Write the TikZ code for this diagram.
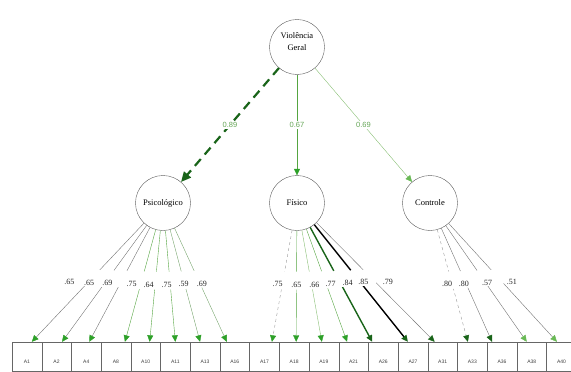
\documentclass[tikz,border=0pt]{standalone}
\usepackage{fontspec}
\setmainfont{Liberation Serif}
\setsansfont{Liberation Sans}
\usetikzlibrary{arrows.meta,positioning}

\definecolor{pathgray}{RGB}{115,115,115}
\definecolor{pathgreen}{RGB}{85,165,65}
\definecolor{sagegreen}{RGB}{120,165,110}
\definecolor{palegreen}{RGB}{135,190,115}
\definecolor{deepgreen}{RGB}{25,100,25}
\definecolor{tipgreen}{RGB}{45,160,40}
\definecolor{tiplight}{RGB}{105,185,85}
\definecolor{coefgreen}{RGB}{100,165,85}

\begin{document}
\begin{tikzpicture}[x=1pt, y=-1pt,
    latent/.style={draw=gray!70!black, circle, minimum size=55pt, inner sep=0pt,
                   font=\fontsize{8.5}{10}\selectfont},
    item/.style={draw=gray!80!black, minimum width=29.7pt, minimum height=29pt, inner sep=0pt,
                 text height=14pt, text depth=0pt, text=black!75,
                 font=\sffamily\fontsize{5}{6}\selectfont},
    load/.style={-{Triangle[length=6.5pt, width=6pt, color=#1]}},
    load/.default=tipgreen,
    gap/.style={fill=white, sloped, minimum width=18pt, minimum height=3pt, inner sep=0pt, pos=.45},
    ld/.style={font=\fontsize{8}{9}\selectfont, fill=white, inner sep=1pt, text=black!85,
               pos=.62, yshift=15pt},
    coef/.style={fill=white, inner sep=1.5pt, midway, text=coefgreen,
                 font=\sffamily\fontsize{7.5}{9}\selectfont},
]
\path[use as bounding box, clip] (0,0) rectangle (571,372);

% latent factors
\node[latent] (vg) at (297,47) {};
\node[align=center, font=\fontsize{8.5}{12.5}\selectfont] (vgtxt) at ([yshift=5.5pt]vg.center) {Violência\\Geral};
\node[latent] (psi) at (163,203) {Psicológico};
\node[latent] (fis) at (297,203) {Físico};
\node[latent] (con) at (430,203) {Controle};

% observed items
\foreach \itm [count=\i] in {A1,A2,A4,A8,A10,A11,A13,A16,A17,A18,A19,A21,A26,A27,A31,A33,A36,A38,A40}
  \node[item] (\itm) at ({12+29.7*(\i-0.5)}, 356.5) {\itm};

% second order
\draw[-{Triangle[length=10pt, width=9pt, color=deepgreen]}, deepgreen, line width=2.2pt,
      dash pattern=on 9pt off 6pt] (vg) -- node[coef] {0.89} (psi);
\draw[load, pathgreen] (vg) -- node[coef] {0.67} (fis);
\draw[load=tiplight, palegreen] (vg) -- node[coef] {0.69} (con);

% Psicologico
\draw[load, pathgray] (psi) -- node[gap] {} node[ld, xshift=-5pt] {.65} ([xshift=5pt]A1.north);
\draw[load, pathgray] (psi) -- node[gap] {} node[ld, xshift=-5pt] {.65} ([xshift=5.5pt]A2.north);
\draw[load, pathgray] (psi) -- node[gap] {} node[ld, xshift=-5pt] {.69} ([xshift=3pt]A4.north);
\draw[load, pathgreen] (psi) -- node[gap] {} node[ld, xshift=-5pt] {.75} ([xshift=9pt]A8.north);
\draw[load, pathgreen] (psi) -- node[gap] {} node[ld, xshift=-5pt] {.64} ([xshift=4pt]A10.north);
\draw[load, pathgreen] (psi) -- node[gap] {} node[ld, xshift=-5pt] {.75} (A11.north);
\draw[load, sagegreen] (psi) -- node[gap] {} node[ld, xshift=-5pt] {.59} ([xshift=-5pt]A13.north);
\draw[load, sagegreen] (psi) -- node[gap] {} node[ld, xshift=-5pt] {.69} ([xshift=-8pt]A16.north);

% Fisico
\draw[load, gray!80, dashed] (fis) -- node[gap] {} node[ld, xshift=-2pt] {.75} ([xshift=7.5pt]A17.north);
\draw[load, pathgreen] (fis) -- node[gap] {} node[ld, xshift=0pt] {.65} ([xshift=2pt]A18.north);
\draw[load, palegreen] (fis) -- node[gap] {} node[ld, xshift=0pt] {.66} ([xshift=-2pt]A19.north);
\draw[load, pathgreen] (fis) -- node[gap] {} node[ld, xshift=-1pt] {.77} ([xshift=-6.5pt]A21.north);
\draw[load=deepgreen, deepgreen, line width=1.4pt] (fis) -- node[gap] {} node[ld, xshift=-1pt] {.84} ([xshift=-11pt]A26.north);
\draw[load=deepgreen, black, line width=1.4pt] (fis) -- node[gap] {} node[ld, xshift=-9pt] {.85} ([xshift=-5pt]A27.north);
\draw[load=deepgreen, pathgray] (fis) -- node[gap] {} node[ld, xshift=-2pt] {.79} ([xshift=-8pt]A31.north);

% Controle
\draw[load=deepgreen, gray!80, dashed] (con) -- node[gap] {} node[ld, xshift=-9pt] {.80} ([xshift=-4.5pt]A33.north);
\draw[load=deepgreen, pathgray] (con) -- node[gap] {} node[ld, xshift=-9pt] {.80} ([xshift=-10pt]A36.north);
\draw[load=tiplight, pathgray] (con) -- node[gap] {} node[ld, xshift=-9pt] {.57} ([xshift=-5pt]A38.north);
\draw[load=tiplight, pathgray] (con) -- node[gap] {} node[ld, xshift=-4pt] {.51} ([xshift=-4.5pt]A40.north);
\end{tikzpicture}
\end{document}
